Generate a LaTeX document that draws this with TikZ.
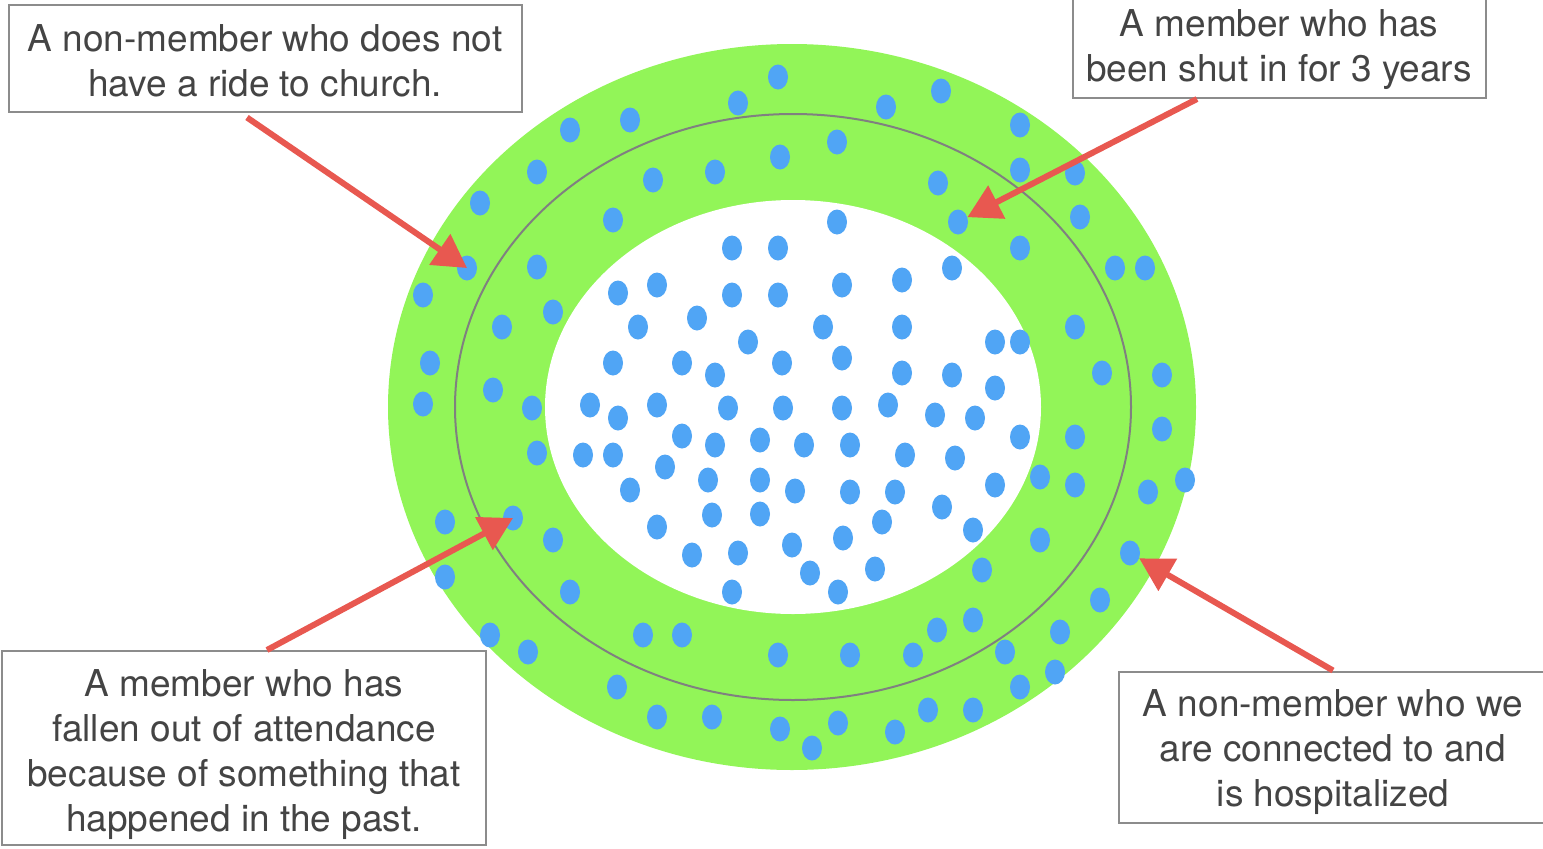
\documentclass[tikz,border=0pt]{standalone}
\usepackage{fontspec}
\setmainfont{TeX Gyre Heros}
\usetikzlibrary{arrows.meta, positioning, shapes.geometric}
\definecolor{ringgreen}{HTML}{92F558}
\definecolor{dotblue}{HTML}{50A5F5}
\definecolor{arrowred}{HTML}{E85850}
\definecolor{boxgrey}{HTML}{8C8C8C}
\definecolor{textgrey}{HTML}{444444}

\begin{document}
\begin{tikzpicture}[x=1pt, y=-1pt,
  person/.style={fill=dotblue, ellipse, minimum width=20pt, minimum height=25pt, inner sep=0pt},
  notebox/.style={draw=boxgrey, line width=2pt, fill=white, inner sep=0pt},
  notetext/.style={align=center, text=textgrey, font=\fontsize{37}{45}\selectfont, inner sep=0pt},
  pointer/.style={-{Triangle[length=33pt, width=36pt]}, line width=6pt, arrowred}]
\useasboundingbox (0,0) rectangle (1543,849);

% rings
\fill[ringgreen] (792,407) ellipse [x radius=404, y radius=363];
\fill[white] (793,407) ellipse [x radius=248, y radius=207];
\draw[gray, line width=2pt] (793,407) ellipse [x radius=338, y radius=293];

% people
\foreach \x/\y [count=\i] in {778/77, 738/103, 886/107, 941/91, 630/120, 570/130, 1020/125, 837/142,
  780/157, 715/172, 653/180, 537/172, 938/183, 1020/170, 1075/173, 480/203, 613/220, 1080/217,
  1020/248, 1115/268, 1145/268, 537/267, 423/295, 553/312, 502/327, 1075/327, 995/342, 1020/342,
  430/363, 493/390, 1102/373, 1162/375, 423/404, 532/408, 1162/429, 1075/437, 1020/437, 537/453,
  1040/477, 1075/485, 1148/492, 1185/480, 995/485, 445/522, 553/540, 1040/540, 445/577, 570/592,
  982/570, 1100/600, 490/635, 528/652, 643/635, 682/635, 778/655, 850/655, 913/655, 937/630,
  973/620, 1060/632, 1005/652, 1020/687, 1055/672, 617/687, 657/717, 712/717, 780/729, 812/748,
  838/723, 895/732, 928/710, 973/710,
  837/222, 732/248, 778/248, 952/268, 618/293, 657/285, 732/295, 778/295, 842/285, 902/280,
  638/327, 697/318, 823/327, 902/327, 748/342, 613/363, 682/363, 715/375, 782/363, 842/358,
  902/373, 952/375, 995/388, 590/405, 618/418, 657/405, 728/408, 783/408, 842/408, 888/405,
  935/415, 975/418, 583/455, 613/455, 682/436, 715/445, 760/440, 804/445, 850/445, 905/455,
  955/458, 630/490, 665/467, 708/480, 760/480, 795/491, 850/492, 895/492, 942/507, 657/527,
  712/515, 760/514, 882/522, 973/530, 692/555, 738/553, 792/545, 843/538, 810/573, 875/569,
  732/592, 838/592}
  \node[person] (p\i) at (\x,\y) {};

\node[person] (rideless) at (467,268) {};
\node[person] (shutin) at (958,222) {};
\node[person] (lapsed) at (513,518) {};
\node[person] (hospital) at (1130,553) {};

% notes
\node[notebox, minimum width=513pt, minimum height=107pt] (rideBox) at (265,58) {};
\node[notetext] (rideText) at ([yshift=-3pt]rideBox.center)
  {A non-member who does not\\have a ride to church.};
\node[notebox, minimum width=413pt, minimum height=104pt] (shutBox) at (1279,46) {};
\node[notetext] (shutText) at ([yshift=-4pt]shutBox.center)
  {A member who has\\been shut in for 3 years};
\node[notebox, minimum width=484pt, minimum height=194pt] (pastBox) at (244,748) {};
\node[notetext] (pastText) at ([yshift=-7pt]pastBox.center)
  {A member who has\\fallen out of attendance\\because of something that\\happened in the past.};
\node[notebox, minimum width=428pt, minimum height=151pt] (hospBox) at (1333,747) {};
\node[notetext] (hospText) at ([yshift=-5pt]hospBox.center)
  {A non-member who we\\are connected to and\\is hospitalized};

\draw[pointer] ([xshift=-18pt, yshift=-5pt]rideBox.south) -- (rideless.center);
\draw[pointer] ([xshift=-82pt]shutBox.south) -- (shutin);
\draw[pointer] ([xshift=23pt]pastBox.north) -- (lapsed.center);
\draw[pointer] (hospBox.north) -- (hospital);
\end{tikzpicture}
\end{document}
